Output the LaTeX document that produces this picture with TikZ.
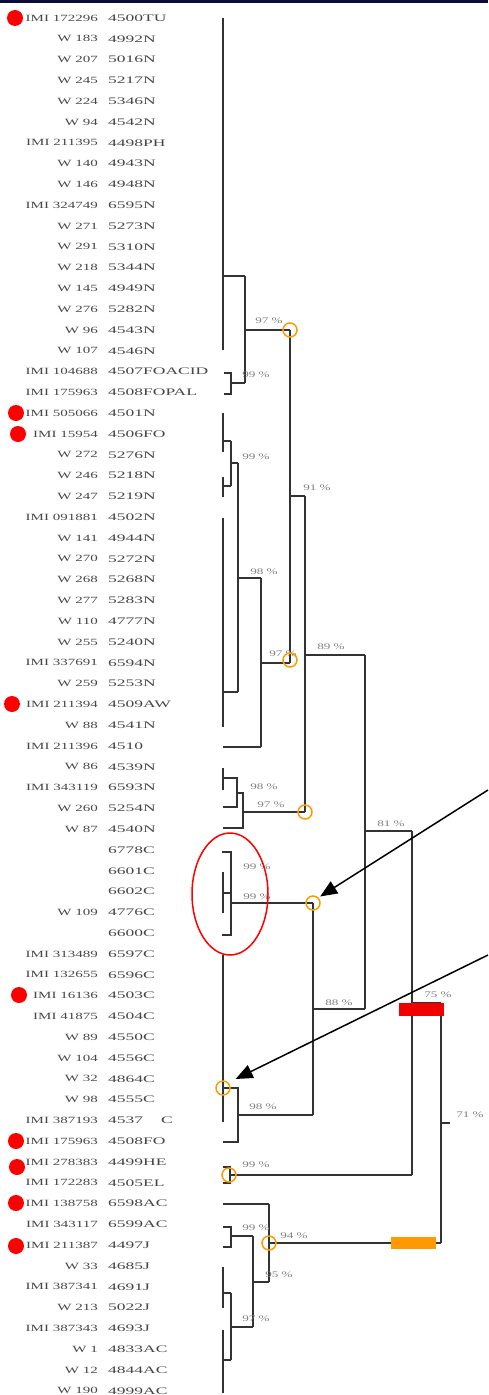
\documentclass[tikz,border=0pt]{standalone}
\usepackage{fontspec}
\usepackage{tikz}
\usetikzlibrary{arrows.meta}
\newfontfamily\idfont[FakeStretch=1.58]{Liberation Serif}
\newfontfamily\codefont[FakeStretch=1.75]{Liberation Serif}
\newfontfamily\pctfont[FakeStretch=1.55]{Liberation Serif}
\definecolor{ringorange}{HTML}{FF9900}
\definecolor{topnavy}{HTML}{0B0B3B}
\definecolor{barred}{HTML}{F20000}

\begin{document}
\begin{tikzpicture}[x=1pt, y=-1pt,
  idtxt/.style={anchor=east, inner sep=0pt, text=black!72, font={\idfont\fontsize{9.5}{10}\selectfont}},
  codetxt/.style={anchor=west, inner sep=0pt, text=black!72, font={\codefont\fontsize{10}{10}\selectfont}},
  pct/.style={inner sep=0pt, text=black!50, font={\pctfont\fontsize{8.5}{9}\selectfont}},
  branch/.style={line width=1.8pt, draw=black!80},
  ring/.style={circle, draw=ringorange, line width=1.5pt, minimum size=14pt, inner sep=0pt},
  rdot/.style={circle, fill=red, minimum size=16pt, inner sep=0pt},
  pointer/.style={line width=1.5pt, -{Triangle[length=17pt,width=14pt]}}]
\useasboundingbox (0,0) rectangle (488,1395);
\fill[white] (0,0) rectangle (488,1395);
\fill[topnavy] (0,0) rectangle (488,2.5);

% strain labels
\node[idtxt] (id1) at (98,18) {IMI 172296}; \node[codetxt] (cd1) at (108,18) {4500TU};
\node[idtxt] (id2) at (98,38.8) {W 183}; \node[codetxt] (cd2) at (108,38.8) {4992N};
\node[idtxt] (id3) at (98,59.6) {W 207}; \node[codetxt] (cd3) at (108,59.6) {5016N};
\node[idtxt] (id4) at (98,80.4) {W 245}; \node[codetxt] (cd4) at (108,80.4) {5217N};
\node[idtxt] (id5) at (98,101.2) {W 224}; \node[codetxt] (cd5) at (108,101.2) {5346N};
\node[idtxt] (id6) at (98,122) {W 94}; \node[codetxt] (cd6) at (108,122) {4542N};
\node[idtxt] (id7) at (98,142.8) {IMI 211395}; \node[codetxt] (cd7) at (108,142.8) {4498PH};
\node[idtxt] (id8) at (98,163.6) {W 140}; \node[codetxt] (cd8) at (108,163.6) {4943N};
\node[idtxt] (id9) at (98,184.4) {W 146}; \node[codetxt] (cd9) at (108,184.4) {4948N};
\node[idtxt] (id10) at (98,205.2) {IMI 324749}; \node[codetxt] (cd10) at (108,205.2) {6595N};
\node[idtxt] (id11) at (98,226) {W 271}; \node[codetxt] (cd11) at (108,226) {5273N};
\node[idtxt] (id12) at (98,246.8) {W 291}; \node[codetxt] (cd12) at (108,246.8) {5310N};
\node[idtxt] (id13) at (98,267.6) {W 218}; \node[codetxt] (cd13) at (108,267.6) {5344N};
\node[idtxt] (id14) at (98,288.4) {W 145}; \node[codetxt] (cd14) at (108,288.4) {4949N};
\node[idtxt] (id15) at (98,309.2) {W 276}; \node[codetxt] (cd15) at (108,309.2) {5282N};
\node[idtxt] (id16) at (98,330) {W 96}; \node[codetxt] (cd16) at (108,330) {4543N};
\node[idtxt] (id17) at (98,350.8) {W 107}; \node[codetxt] (cd17) at (108,350.8) {4546N};
\node[idtxt] (id18) at (98,371.6) {IMI 104688}; \node[codetxt] (cd18) at (108,371.6) {4507FOACID};
\node[idtxt] (id19) at (98,392.4) {IMI 175963}; \node[codetxt] (cd19) at (108,392.4) {4508FOPAL};
\node[idtxt] (id20) at (98,413.2) {IMI 505066}; \node[codetxt] (cd20) at (108,413.2) {4501N};
\node[idtxt] (id21) at (98,434) {IMI 15954}; \node[codetxt] (cd21) at (108,434) {4506FO};
\node[idtxt] (id22) at (98,454.8) {W 272}; \node[codetxt] (cd22) at (108,454.8) {5276N};
\node[idtxt] (id23) at (98,475.6) {W 246}; \node[codetxt] (cd23) at (108,475.6) {5218N};
\node[idtxt] (id24) at (98,496.4) {W 247}; \node[codetxt] (cd24) at (108,496.4) {5219N};
\node[idtxt] (id25) at (98,517.2) {IMI 091881}; \node[codetxt] (cd25) at (108,517.2) {4502N};
\node[idtxt] (id26) at (98,538) {W 141}; \node[codetxt] (cd26) at (108,538) {4944N};
\node[idtxt] (id27) at (98,558.8) {W 270}; \node[codetxt] (cd27) at (108,558.8) {5272N};
\node[idtxt] (id28) at (98,579.6) {W 268}; \node[codetxt] (cd28) at (108,579.6) {5268N};
\node[idtxt] (id29) at (98,600.4) {W 277}; \node[codetxt] (cd29) at (108,600.4) {5283N};
\node[idtxt] (id30) at (98,621.2) {W 110}; \node[codetxt] (cd30) at (108,621.2) {4777N};
\node[idtxt] (id31) at (98,642) {W 255}; \node[codetxt] (cd31) at (108,642) {5240N};
\node[idtxt] (id32) at (98,662.8) {IMI 337691}; \node[codetxt] (cd32) at (108,662.8) {6594N};
\node[idtxt] (id33) at (98,683.6) {W 259}; \node[codetxt] (cd33) at (108,683.6) {5253N};
\node[idtxt] (id34) at (98,704.4) {IMI 211394}; \node[codetxt] (cd34) at (108,704.4) {4509AW};
\node[idtxt] (id35) at (98,725.2) {W 88}; \node[codetxt] (cd35) at (108,725.2) {4541N};
\node[idtxt] (id36) at (98,746) {IMI 211396}; \node[codetxt] (cd36) at (108,746) {4510};
\node[idtxt] (id37) at (98,766.8) {W 86}; \node[codetxt] (cd37) at (108,766.8) {4539N};
\node[idtxt] (id38) at (98,787.6) {IMI 343119}; \node[codetxt] (cd38) at (108,787.6) {6593N};
\node[idtxt] (id39) at (98,808.4) {W 260}; \node[codetxt] (cd39) at (108,808.4) {5254N};
\node[idtxt] (id40) at (98,829.2) {W 87}; \node[codetxt] (cd40) at (108,829.2) {4540N};
\node[codetxt] (cd41) at (108,850) {6778C};
\node[codetxt] (cd42) at (108,870.8) {6601C};
\node[codetxt] (cd43) at (108,891.6) {6602C};
\node[idtxt] (id44) at (98,912.4) {W 109}; \node[codetxt] (cd44) at (108,912.4) {4776C};
\node[codetxt] (cd45) at (108,933.2) {6600C};
\node[idtxt] (id46) at (98,954) {IMI 313489}; \node[codetxt] (cd46) at (108,954) {6597C};
\node[idtxt] (id47) at (98,974.8) {IMI 132655}; \node[codetxt] (cd47) at (108,974.8) {6596C};
\node[idtxt] (id48) at (98,995.6) {IMI 16136}; \node[codetxt] (cd48) at (108,995.6) {4503C};
\node[idtxt] (id49) at (98,1016.4) {IMI 41875}; \node[codetxt] (cd49) at (108,1016.4) {4504C};
\node[idtxt] (id50) at (98,1037.2) {W 89}; \node[codetxt] (cd50) at (108,1037.2) {4550C};
\node[idtxt] (id51) at (98,1058) {W 104}; \node[codetxt] (cd51) at (108,1058) {4556C};
\node[idtxt] (id52) at (98,1078.8) {W 32}; \node[codetxt] (cd52) at (108,1078.8) {4864C};
\node[idtxt] (id53) at (98,1099.6) {W 98}; \node[codetxt] (cd53) at (108,1099.6) {4555C};
\node[idtxt] (id54) at (98,1120.4) {IMI 387193}; \node[codetxt] (cd54) at (108,1120.4) {4537\hspace{18pt}C};
\node[idtxt] (id55) at (98,1141.2) {IMI 175963}; \node[codetxt] (cd55) at (108,1141.2) {4508FO};
\node[idtxt] (id56) at (98,1162) {IMI 278383}; \node[codetxt] (cd56) at (108,1162) {4499HE};
\node[idtxt] (id57) at (98,1182.8) {IMI 172283}; \node[codetxt] (cd57) at (108,1182.8) {4505EL};
\node[idtxt] (id58) at (98,1203.6) {IMI 138758}; \node[codetxt] (cd58) at (108,1203.6) {6598AC};
\node[idtxt] (id59) at (98,1224.4) {IMI 343117}; \node[codetxt] (cd59) at (108,1224.4) {6599AC};
\node[idtxt] (id60) at (98,1245.2) {IMI 211387}; \node[codetxt] (cd60) at (108,1245.2) {4497J};
\node[idtxt] (id61) at (98,1266) {W 33}; \node[codetxt] (cd61) at (108,1266) {4685J};
\node[idtxt] (id62) at (98,1286.8) {IMI 387341}; \node[codetxt] (cd62) at (108,1286.8) {4691J};
\node[idtxt] (id63) at (98,1307.6) {W 213}; \node[codetxt] (cd63) at (108,1307.6) {5022J};
\node[idtxt] (id64) at (98,1328.4) {IMI 387343}; \node[codetxt] (cd64) at (108,1328.4) {4693J};
\node[idtxt] (id65) at (98,1349.2) {W 1}; \node[codetxt] (cd65) at (108,1349.2) {4833AC};
\node[idtxt] (id66) at (98,1370) {W 12}; \node[codetxt] (cd66) at (108,1370) {4844AC};
\node[idtxt] (id67) at (98,1390.8) {W 190}; \node[codetxt] (cd67) at (108,1390.8) {4999AC};

% red markers
\node[rdot] (dot1) at (15,18) {};
\node[rdot] (dot20) at (16,413) {};
\node[rdot] (dot21) at (18,434) {};
\node[rdot] (dot34) at (12,704) {};
\node[rdot] (dot48) at (19,995) {};
\node[rdot] (dot55) at (16,1141) {};
\node[rdot] (dot56) at (17,1167) {};
\node[rdot] (dot58) at (16,1203) {};
\node[rdot] (dot60) at (16,1246) {};

% tree
\draw[branch] (223,18) -- (223,350) (223,276) -- (245,276);
\draw[branch] (224,373) -- (231,373) -- (231,394) -- (224,394) (231,383) -- (245,383);
\draw[branch] (245,276) -- (245,383) (245,330) -- (290,330);
\draw[branch] (223,413) -- (223,452) (223,441) -- (231,441) (223,477) -- (223,497) (223,486) -- (231,486);
\draw[branch] (231,441) -- (231,486) (231,463) -- (238,463);
\draw[branch] (223,518) -- (223,727) (223,692) -- (238,692);
\draw[branch] (238,463) -- (238,692) (238,578) -- (261,578);
\draw[branch] (223,747) -- (261,747) (261,578) -- (261,747) (261,663) -- (290,663);
\draw[branch] (290,330) -- (290,663) (290,496) -- (305,496);
\draw[branch] (223,768) -- (223,790) (223,778) -- (237,778) -- (237,807) -- (223,807);
\draw[branch] (237,793) -- (243,793) -- (243,828) -- (223,828) (243,812) -- (305,812);
\draw[branch] (305,496) -- (305,812) (305,655) -- (365,655);
\draw[branch] (222,852) -- (231,852) -- (231,935) -- (222,935);
\draw[branch] (223,872) -- (223,913) (223,893) -- (231,893) (231,903) -- (313,903);
\draw[branch] (223,955) -- (223,1122) (223,1088) -- (238,1088) -- (238,1142) -- (223,1142) (238,1115) -- (313,1115);
\draw[branch] (313,903) -- (313,1115) (313,1009) -- (365,1009);
\draw[branch] (365,655) -- (365,1009) (365,831) -- (412,831);
\draw[branch] (223,1167) -- (230,1167) -- (230,1183) -- (223,1183) (230,1175) -- (412,1175);
\draw[branch] (412,831) -- (412,1175) (412,1003) -- (441,1003);
\draw[branch] (223,1204) -- (269,1204);
\draw[branch] (223,1227) -- (231,1227) -- (231,1247) -- (223,1247) (231,1236) -- (253,1236);
\draw[branch] (223,1267) -- (223,1308) (223,1293) -- (231,1293) (223,1330) -- (223,1393) (223,1360) -- (231,1360);
\draw[branch] (231,1293) -- (231,1360) (231,1327) -- (253,1327);
\draw[branch] (253,1236) -- (253,1327) (253,1282) -- (269,1282);
\draw[branch] (269,1204) -- (269,1282) (269,1243) -- (441,1243);
\draw[branch] (441,1003) -- (441,1243) (441,1123) -- (450,1123);

% bootstrap values
\node[pct] (p97a) at (269,321) {97 \%};
\node[pct] (p99a) at (256,375) {99 \%};
\node[pct] (p99b) at (256,457) {99 \%};
\node[pct] (p91) at (317,488) {91 \%};
\node[pct] (p98a) at (264,572) {98 \%};
\node[pct] (p97b) at (283,654) {97 \%};
\node[pct] (p89) at (331,647) {89 \%};
\node[pct] (p98b) at (264,787) {98 \%};
\node[pct] (p97c) at (271,805) {97 \%};
\node[pct] (p81) at (391,824) {81 \%};
\node[pct] (p99c) at (257,867) {99 \%};
\node[pct] (p99d) at (257,897) {99 \%};
\node[pct] (p88) at (339,1003) {88 \%};
\node[pct] (p75) at (438,995) {75 \%};
\node[pct] (p98c) at (263,1107) {98 \%};
\node[pct] (p71) at (470,1115) {71 \%};
\node[pct] (p99e) at (256,1165) {99 \%};
\node[pct] (p99f) at (256,1228) {99 \%};
\node[pct] (p94) at (294,1236) {94 \%};
\node[pct] (p95) at (279,1275) {95 \%};
\node[pct] (p97d) at (256,1319) {97 \%};

% highlights
\fill[barred] (399,1003) rectangle (444,1016);
\fill[ringorange] (391,1237) rectangle (436,1249);
\draw[red, line width=1.5pt] (230,894) ellipse [x radius=38pt, y radius=61pt];
\node[ring] (k97a) at (290,330) {};
\node[ring] (k97b) at (290,660) {};
\node[ring] (k97c) at (305,812) {};
\node[ring] (k88) at (313,903) {};
\node[ring] (k98) at (223,1088) {};
\node[ring] (k99) at (229,1175) {};
\node[ring] (k94) at (269,1243) {};

\coordinate (tail1) at (488,790);
\coordinate (tail2) at (488,955);
\draw[pointer, shorten >=2pt] (tail1) -- (k88.north east);
\draw[pointer, shorten >=8pt] (tail2) -- (k98.north east);
\end{tikzpicture}
\end{document}
